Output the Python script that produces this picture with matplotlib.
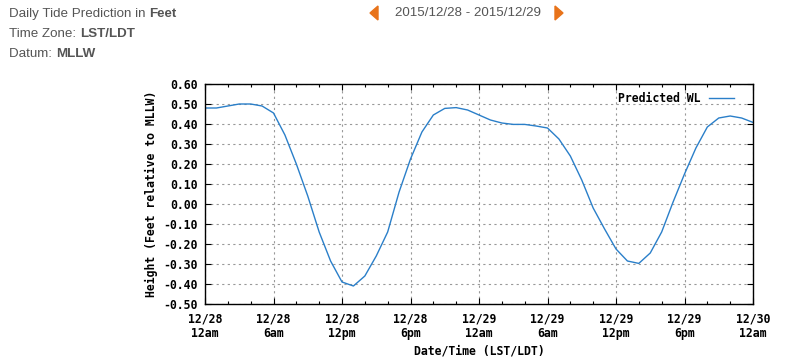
import matplotlib
matplotlib.use("Agg")

import matplotlib.pyplot as plt
import numpy as np

# hours since 2015/12/28 00:00 and predicted water level (feet, MLLW)
hours = list(range(0, 49))
levels = [0.48, 0.48, 0.49, 0.50, 0.50, 0.49, 0.455, 0.345, 0.20, 0.04,
          -0.14, -0.285, -0.39, -0.41, -0.36, -0.26, -0.14, 0.06, 0.225, 0.36,
          0.445, 0.478, 0.482, 0.47, 0.445, 0.42, 0.405, 0.398, 0.398, 0.39,
          0.38, 0.325, 0.24, 0.12, -0.02, -0.125, -0.225, -0.285, -0.297, -0.245,
          -0.14, 0.01, 0.15, 0.28, 0.385, 0.43, 0.44, 0.43, 0.408]

tick_hours = [0, 6, 12, 18, 24, 30, 36, 42, 48]
tick_labels = ["12/28\n12am", "12/28\n6am", "12/28\n12pm", "12/28\n6pm",
               "12/29\n12am", "12/29\n6am", "12/29\n12pm", "12/29\n6pm",
               "12/30\n12am"]
y_ticks = [-0.5, -0.4, -0.3, -0.2, -0.1, 0.0, 0.1, 0.2, 0.3, 0.4, 0.5, 0.6]

mono = "DejaVu Sans Mono"
fs = 8.3
fig = plt.figure(figsize=(7.86, 3.58), dpi=100)
ax = fig.add_axes([205 / 786, 1 - 304 / 358, 548 / 786, 220 / 358])

ax.plot(hours, levels, color="#2a7fc9", linewidth=1.0, label="Predicted WL")

ax.set_xlim(0, 48)
ax.set_ylim(-0.5, 0.6)
ax.set_xticks(tick_hours)
ax.set_xticklabels(tick_labels, fontfamily=mono, fontweight="bold", fontsize=fs,
                   linespacing=1.2)
ax.set_xticks(np.arange(0, 49, 2), minor=True)
ax.set_yticks(y_ticks)
ax.set_yticklabels(["%.2f" % v for v in y_ticks], fontfamily=mono, fontweight="bold",
                   fontsize=fs)

ax.tick_params(which="both", direction="in", top=True, right=True, color="black")
ax.tick_params(which="major", length=4, width=0.8)
ax.tick_params(axis="x", which="major", pad=6)
ax.tick_params(axis="y", which="major", pad=5)
ax.tick_params(which="minor", length=2, width=0.8)
ax.grid(True, which="major", color="#999999", linestyle=(0, (2, 3)), linewidth=0.8)
for s in ax.spines.values():
    s.set_linewidth(1.0)

ax.set_xlabel("Date/Time (LST/LDT)", fontfamily=mono, fontweight="bold",
              fontsize=fs)
ax.xaxis.set_label_coords(0.5, -40 / 220)
ax.set_ylabel("Height (Feet relative to MLLW)", fontfamily=mono, fontweight="bold",
              fontsize=fs)
ax.yaxis.set_label_coords(-47 / 548, 0.5)

leg = ax.legend(loc="upper right", frameon=False, handlelength=2.2,
                prop={"family": mono, "weight": "bold", "size": fs},
                markerfirst=False, bbox_to_anchor=(0.985, 1.01),
                handletextpad=0.7)

# page header
hdr = {"family": ["Liberation Sans", "DejaVu Sans"], "color": "#555555", "fontsize": 9.6}


def header_line(y, normal, bold):
    t = fig.text(9 / 786, 1 - y / 358, normal, va="baseline", **hdr)
    ax.annotate(bold, xy=(1, 0), xycoords=t, va="bottom", ha="left",
                fontweight="bold", annotation_clip=False, **hdr)
    return t


header_line(17, "Daily Tide Prediction in ", "Feet")
header_line(37, "Time Zone: ", "LST/LDT")
header_line(57, "Datum: ", "MLLW")
fig.text(468 / 786, 1 - 13 / 358, "2015/12/28 - 2015/12/29", ha="center",
         va="center", **hdr)
fig.patches.append(plt.Polygon([[378 / 786, 1 - 6 / 358], [378 / 786, 1 - 20 / 358],
                                [370 / 786, 1 - 13 / 358]], closed=True,
                               transform=fig.transFigure, color="#e8731a"))
fig.patches.append(plt.Polygon([[555 / 786, 1 - 6 / 358], [555 / 786, 1 - 20 / 358],
                                [563 / 786, 1 - 13 / 358]], closed=True,
                               transform=fig.transFigure, color="#e8731a"))

fig.savefig("out.png", dpi=100)
plt.close(fig)
